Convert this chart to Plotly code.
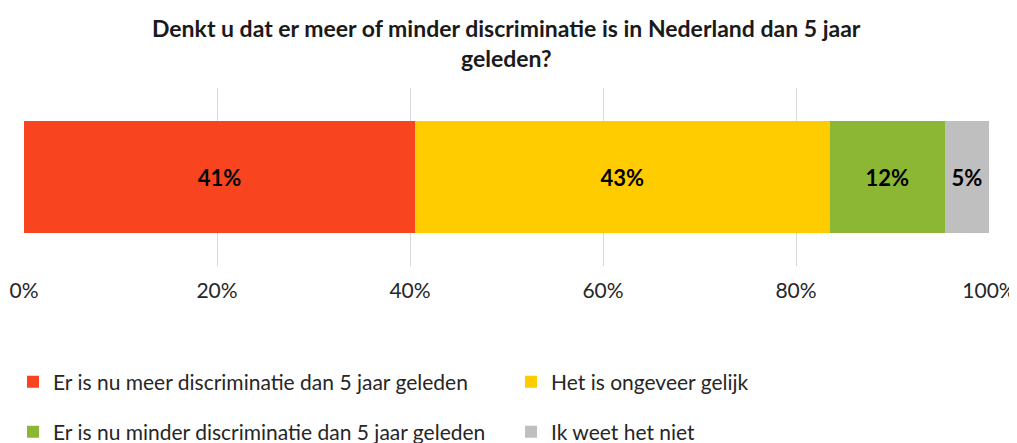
import plotly.graph_objects as go

categorieen = [
    "Er is nu meer discriminatie dan 5 jaar geleden",
    "Het is ongeveer gelijk",
    "Er is nu minder discriminatie dan 5 jaar geleden",
    "Ik weet het niet",
]
aandelen = [0.405, 0.430, 0.119, 0.046]
labels = ["41%", "43%", "12%", "5%"]
kleuren = ["#F94420", "#FFCC00", "#8BB735", "#BFBFBF"]

titel_regels = [
    "Denkt u dat er meer of minder discriminatie is in Nederland dan 5 jaar",
    "geleden?",
]

FONT = "Lato, 'Open Sans', sans-serif"
# de pagina heeft 8px body-marge, dus figuur iets kleiner en alles 8px verschoven
W, H = 1009, 435
PLOT_TOP, PLOT_H = 80, 178

# legenda-posities (pixels in de figuur): tekstbegin en midden van de rij
legenda_pos = [(45, 374), (543, 374), (45, 424), (543, 424)]

fig = go.Figure()
for i, (naam, waarde, label, kleur) in enumerate(zip(categorieen, aandelen, labels, kleuren)):
    lg = "legend" if i == 0 else f"legend{i + 1}"
    fig.add_trace(go.Bar(
        y=[""],
        x=[waarde],
        orientation="h",
        name=naam,
        showlegend=True,
        marker_color=kleur,
        marker_line_width=0,
        text=[label],
        textposition="inside",
        insidetextanchor="middle",
        textfont=dict(family=FONT, size=22, color="#000000", weight="bold"),
        legend=lg,
    ))

legend_layouts = {}
for i, (px, py) in enumerate(legenda_pos):
    key = "legend" if i == 0 else f"legend{i + 1}"
    legend_layouts[key] = dict(
        orientation="h",
        xref="container", yref="container",
        x=(px - 40) / W, xanchor="left",
        y=1 - py / H, yanchor="middle",
        font=dict(family=FONT, size=21, color="#262626"),
        bgcolor="rgba(0,0,0,0)",
    )

fig.update_layout(
    barmode="stack",
    bargap=0.37,
    width=W,
    height=H,
    showlegend=True,
    paper_bgcolor="white",
    plot_bgcolor="white",
    font=dict(family=FONT, size=21, color="#262626"),
    margin=dict(l=16, r=28, t=PLOT_TOP, b=H - PLOT_TOP - PLOT_H),
    xaxis=dict(
        range=[0, 1],
        dtick=0.2,
        tickformat=".0%",
        showgrid=True,
        gridcolor="#D9D9D9",
        gridwidth=1,
        zeroline=False,
        showline=False,
        automargin=False,
        ticklabelstandoff=10,
        tickfont=dict(family=FONT, size=21, color="#262626"),
    ),
    yaxis=dict(showticklabels=False, showgrid=False, zeroline=False, automargin=False),
    **legend_layouts,
)

# titel in twee regels, zoals in het origineel
for regel, py in zip(titel_regels, [20, 50]):
    fig.add_annotation(
        text=f"<b>{regel}</b>",
        xref="paper", yref="paper",
        x=0.5, y=1 + (PLOT_TOP - py) / PLOT_H,
        xanchor="center", yanchor="middle",
        showarrow=False,
        font=dict(family=FONT, size=23, color="#1a1a1a"),
    )

fig.write_html("out.html")
